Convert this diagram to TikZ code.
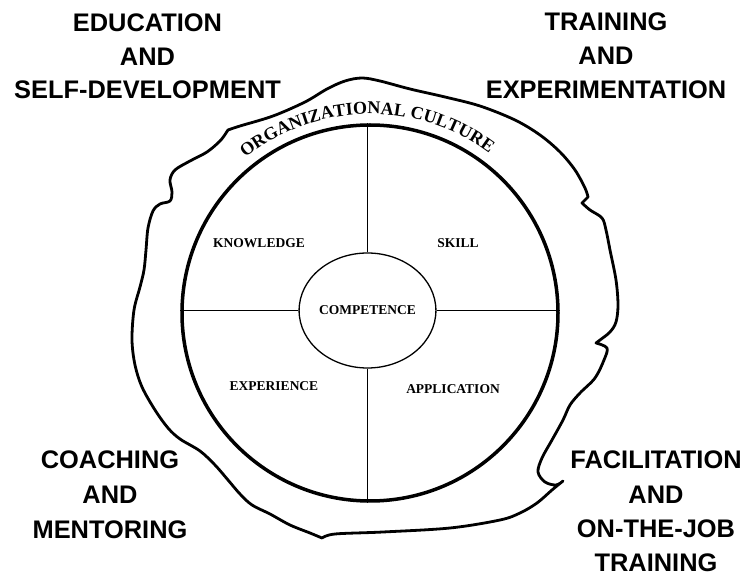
\documentclass[tikz,border=0pt]{standalone}
\usepackage{fontspec}
\setmainfont{Liberation Serif}
\newfontfamily\labelsans{Liberation Sans}
\usetikzlibrary{shapes.geometric,decorations.text}
\newcommand\arcfont{\bfseries\fontsize{18}{20}\selectfont}

\begin{document}
\begin{tikzpicture}[x=1pt,y=-1pt,
  corner/.style={font=\labelsans\bfseries\fontsize{25.4}{30}\selectfont, anchor=base, inner sep=0pt},
  part/.style={font=\bfseries\fontsize{13.5}{16}\selectfont, inner sep=0pt},
  rim/.style={draw, line width=3.5pt},
  divider/.style={line width=1.3pt},
  blob/.style={line width=2.8pt, line join=round, line cap=round}]
\useasboundingbox (0,0) rectangle (748,577);

% outer wheel and the competence core
\node[circle, rim, minimum size=376pt, inner sep=0pt] (wheel) at (370,313) {};
\node[ellipse, draw, line width=1.3pt, minimum width=129pt, minimum height=115pt, inner sep=0pt,
      font=\bfseries\fontsize{13.5}{16}\selectfont] (core) at (367.5,310.5) {COMPETENCE};

% quadrant dividers
\draw[divider] (core.north) -- (core.north |- wheel.north);
\draw[divider] (core.south) -- (core.south |- wheel.south);
\draw[divider] (core.west) -- (core.west -| wheel.west);
\draw[divider] (core.east) -- (core.east -| wheel.east);

% quadrant labels
\node[part] (knowledge) at (259,243) {KNOWLEDGE};
\node[part] (skill) at (458,243) {SKILL};
\node[part] (experience) at (274,386) {EXPERIENCE};
\node[part] (application) at (453,389) {APPLICATION};

% culture boundary
\draw[blob]
  plot[smooth, tension=0.55] coordinates {(228,130) (240,126) (273,116) (305,102) (327,89) (345,81)
     (362,78) (380,81) (410,89) (445,97) (480,106) (515,120) (540,135) (560,152) (575,170)
     (585,188) (588,197)}
  -- plot[smooth, tension=0.55] coordinates {(582,203) (590,210) (602,218) (606,230) (610,250)
     (616,280) (618,305) (616,322) (610,332) (600,340) (596,343)}
  -- plot[smooth, tension=0.55] coordinates {(596,343) (607,348) (604,360) (595,378) (580,393)
     (570,405) (563,420) (552,440) (542,458) (538,472) (545,482) (556,485) (563,481)}
  -- plot[smooth, tension=0.55] coordinates {(563,481) (552,490) (537,503) (520,513) (500,520)
     (450,528) (383,532) (335,534) (322,538)}
  -- plot[smooth, tension=0.55] coordinates {(322,538) (310,533) (290,525) (270,514) (252,505)
     (240,494) (228,480) (215,465) (200,451) (180,439) (168,428) (155,410) (142,387) (135,365)
     (132,340) (134,310) (140,287) (144,270) (146,250) (148,228) (153,211) (160,204) (170,201)
     (172,192) (170,180) (175,170) (190,161) (207,152) (220,141) (226,133)}
  -- cycle;

% curved title of the boundary
\begin{scope}[y=1pt, shift={(wheel.center)}]
  \path[decorate, decoration={text along path, text={|\arcfont|ORGANIZATIONAL CULTURE},
        text align=center}]
    (131:199pt) arc[start angle=131, end angle=51, radius=199pt];
\end{scope}

% development routes
\node[corner] (edu1) at (147.5,32) {EDUCATION};
\node[corner] (edu2) at (147.5,65.5) {AND};
\node[corner] (edu3) at (147.5,99) {SELF-DEVELOPMENT};

\node[corner] (trn1) at (606,31) {TRAINING};
\node[corner] (trn2) at (606,65) {AND};
\node[corner] (trn3) at (606,99) {EXPERIMENTATION};

\node[corner] (coa1) at (110,469) {COACHING};
\node[corner] (coa2) at (110,504) {AND};
\node[corner] (coa3) at (110,539) {MENTORING};

\node[corner] (fac1) at (656,469) {FACILITATION};
\node[corner] (fac2) at (656,504) {AND};
\node[corner] (fac3) at (656,538) {ON-THE-JOB};
\node[corner] (fac4) at (656,572) {TRAINING};
\end{tikzpicture}
\end{document}
